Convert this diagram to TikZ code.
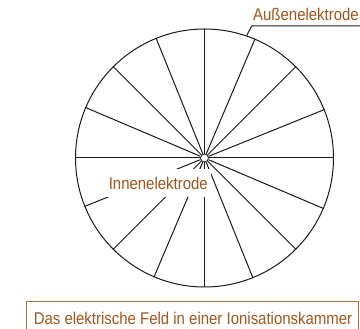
\documentclass[tikz,border=0pt]{standalone}
\usepackage{fontspec}
\newfontfamily\labfont[FakeStretch=0.88]{Liberation Sans}
\definecolor{labbrown}{HTML}{A0561C}
\definecolor{boxbrown}{HTML}{A87440}
\definecolor{inkline}{HTML}{1A1A1A}
\begin{document}
\begin{tikzpicture}[x=1pt,y=-1pt,
  wire/.style={draw=inkline,line width=1pt},
  lab/.style={font=\labfont\fontsize{17}{17}\selectfont,text=labbrown,inner sep=0pt}]
\useasboundingbox (0,0) rectangle (360,329);
% electrodes
\node[wire,circle,minimum size=258pt,inner sep=0pt] (outer) at (204.5,158) {};
\node[wire,circle,minimum size=8pt,inner sep=0pt,line width=0.8pt] (inner) at (204.5,158) {};
% field lines
\foreach \a in {0,22.5,...,337.5}
  \draw[wire] (inner.\a) -- (outer.\a);
% inner electrode label (white background cuts the lines)
\node[lab,fill=white,minimum width=105pt,minimum height=28pt] (inn) at (158.3,183) {Innenelektrode};
% outer electrode label
\node[lab,anchor=base west] (aus) at (253,20.7) {Außenelektrode};
\coordinate (u1) at (251.7,26);
\coordinate (u2) at (360,26);
\draw[wire] (outer.71.5) -- (u1) -- (u2);
% caption
\node[lab,draw=boxbrown,line width=1pt,minimum width=332pt,minimum height=33pt] (cap) at (193,318.5)
  {Das elektrische Feld in einer Ionisationskammer};
\end{tikzpicture}
\end{document}
